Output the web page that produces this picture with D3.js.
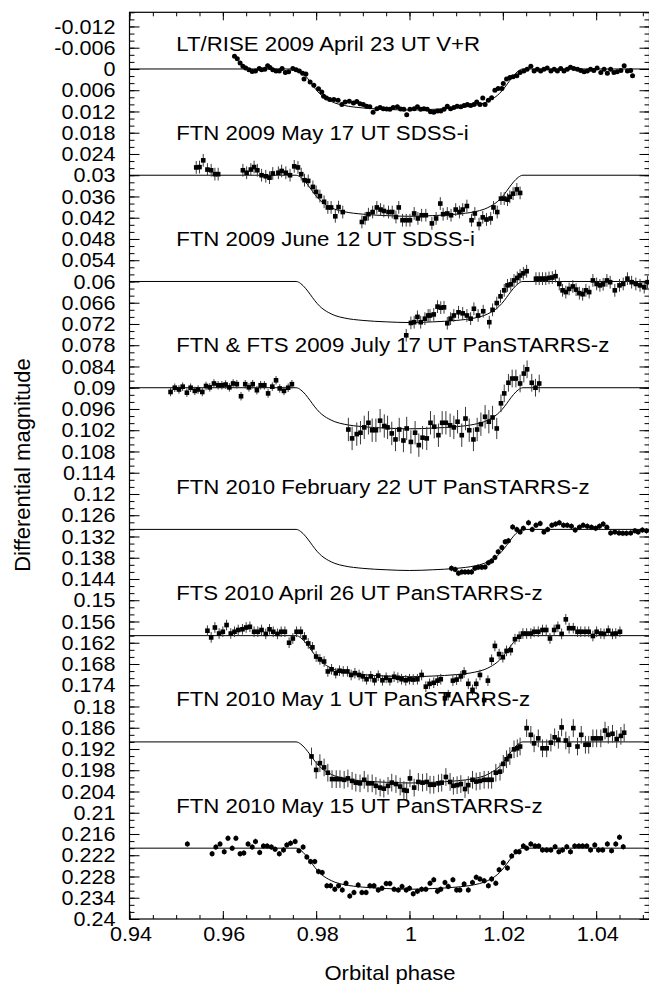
<!DOCTYPE html>
<html>
<head>
<meta charset="utf-8">
<script src="https://cdn.jsdelivr.net/npm/d3@7"></script>
<style>
  html, body { margin: 0; padding: 0; background: #fff; }
  svg { display: block; }
  text { font-family: "Liberation Sans", Arial, Helvetica, sans-serif; fill: #000; }
</style>
</head>
<body>
<svg id="chart" width="649" height="984"></svg>
<script>
// ---- light-curve data: [orbital phase, differential magnitude before offset] ----
const lightCurveNames = [
  "LT/RISE 2009 April 23 UT V+R",
  "FTN 2009 May 17 UT SDSS-i",
  "FTN 2009 June 12 UT SDSS-i",
  "FTN & FTS 2009 July 17 UT PanSTARRS-z",
  "FTN 2010 February 22 UT PanSTARRS-z",
  "FTS 2010 April 26 UT PanSTARRS-z",
  "FTN 2010 May 1 UT PanSTARRS-z",
  "FTN 2010 May 15 UT PanSTARRS-z"
];
const lightCurveOffsets = [0, 0.03, 0.06, 0.09, 0.13, 0.16, 0.19, 0.22];
const lightCurveErrors = [0, 0.0018, 0.0018, 0, 0.0008, 0.0015, 0.0025, 0.0008];

const april23 = [
  [0.9625,-0.0036],[0.9631,-0.0029],[0.9637,-0.0017],[0.9643,-0.0008],[0.9649,-0.0003],[0.9656,0.0002],
  [0.9663,0.0007],[0.9670,0.0006],[0.9678,-0.0001],[0.9683,0.0002],[0.9690,0.0001],[0.9696,-0.0009],
  [0.9701,-0.0004],[0.9707,0.0002],[0.9714,0.0006],[0.9721,0.0006],[0.9727,-0.0001],[0.9734,0.0010],
  [0.9741,0.0008],[0.9750,-0.0001],[0.9757,0.0002],[0.9764,0.0006],[0.9771,0.0012],[0.9774,0.0028],
  [0.9778,0.0014],[0.9787,0.0037],[0.9795,0.0046],[0.9805,0.0056],[0.9812,0.0065],[0.9816,0.0077],
  [0.9822,0.0082],[0.9829,0.0086],[0.9838,0.0086],[0.9847,0.0088],[0.9855,0.0100],[0.9862,0.0093],
  [0.9871,0.0091],[0.9880,0.0096],[0.9887,0.0092],[0.9894,0.0098],[0.9901,0.0100],[0.9908,0.0105],
  [0.9915,0.0107],[0.9922,0.0122],[0.9930,0.0112],[0.9937,0.0109],[0.9944,0.0112],[0.9951,0.0113],
  [0.9958,0.0114],[0.9965,0.0109],[0.9974,0.0107],[0.9981,0.0113],[0.9988,0.0114],[0.9994,0.0129],
  [1.0001,0.0114],[1.0010,0.0112],[1.0017,0.0107],[1.0024,0.0114],[1.0031,0.0112],[1.0038,0.0114],
  [1.0045,0.0121],[1.0052,0.0122],[1.0060,0.0119],[1.0067,0.0119],[1.0074,0.0114],[1.0081,0.0105],
  [1.0088,0.0112],[1.0095,0.0109],[1.0102,0.0105],[1.0110,0.0107],[1.0117,0.0103],[1.0124,0.0100],
  [1.0131,0.0103],[1.0138,0.0100],[1.0144,0.0093],[1.0151,0.0100],[1.0157,0.0082],[1.0162,0.0100],
  [1.0169,0.0088],[1.0176,0.0081],[1.0183,0.0060],[1.0190,0.0055],[1.0198,0.0055],[1.0201,0.0041],
  [1.0208,0.0028],[1.0215,0.0024],[1.0222,0.0022],[1.0230,0.0019],[1.0237,0.0010],[1.0245,0.0006],
  [1.0252,0.0001],[1.0260,-0.0008],[1.0267,0.0006],[1.0274,0.0001],[1.0281,0.0006],[1.0288,0.0001],
  [1.0295,-0.0003],[1.0303,0.0006],[1.0310,0.0001],[1.0317,0.0006],[1.0324,-0.0001],[1.0331,0.0006],
  [1.0338,0.0001],[1.0345,-0.0005],[1.0352,-0.0001],[1.0360,0.0001],[1.0367,0.0004],[1.0374,0.0008],
  [1.0381,0.0006],[1.0388,0.0001],[1.0395,0.0004],[1.0402,-0.0003],[1.0410,0.0010],[1.0417,0.0001],
  [1.0424,0.0012],[1.0431,0.0001],[1.0438,0.0010],[1.0445,0.0008],[1.0453,0.0004],[1.0460,-0.0009],
  [1.0467,0.0006],[1.0474,0.0004],[1.0478,0.0019]
];

const may17 = [
  [0.9543,-0.0022],[0.9550,-0.0023],[0.9558,-0.0042],[0.9567,-0.0016],[0.9575,-0.0014],[0.9583,-0.0003],
  [0.9590,-0.0003],[0.9643,-0.0014],[0.9651,-0.0007],[0.9660,-0.0016],[0.9667,-0.0023],[0.9674,-0.0014],
  [0.9683,0.0000],[0.9692,0.0003],[0.9700,0.0007],[0.9707,-0.0005],[0.9719,-0.0007],[0.9726,-0.0012],
  [0.9735,-0.0007],[0.9744,0.0000],[0.9753,-0.0025],[0.9761,-0.0022],[0.9768,-0.0003],[0.9775,0.0014],
  [0.9783,0.0016],[0.9793,0.0033],[0.9800,0.0047],[0.9808,0.0059],[0.9817,0.0075],[0.9825,0.0091],
  [0.9832,0.0091],[0.9841,0.0116],[0.9848,0.0090],[0.9857,0.0104],[0.9898,0.0132],[0.9905,0.0122],
  [0.9912,0.0110],[0.9921,0.0104],[0.9930,0.0091],[0.9938,0.0097],[0.9945,0.0101],[0.9955,0.0104],
  [0.9963,0.0104],[0.9971,0.0118],[0.9977,0.0091],[0.9985,0.0127],[0.9993,0.0127],[1.0001,0.0127],
  [1.0010,0.0108],[1.0018,0.0122],[1.0026,0.0113],[1.0035,0.0113],[1.0048,0.0136],[1.0057,0.0122],
  [1.0066,0.0080],[1.0072,0.0110],[1.0081,0.0108],[1.0089,0.0113],[1.0099,0.0097],[1.0107,0.0104],
  [1.0114,0.0097],[1.0123,0.0087],[1.0133,0.0127],[1.0140,0.0108],[1.0149,0.0138],[1.0157,0.0119],
  [1.0165,0.0125],[1.0174,0.0122],[1.0180,0.0091],[1.0188,0.0104],[1.0196,0.0066],[1.0203,0.0066],
  [1.0210,0.0069],[1.0215,0.0061],[1.0222,0.0052],[1.0230,0.0040],[1.0237,0.0050]
];

const june12 = [
  [0.9993,0.0152],[1.0003,0.0117],[1.0010,0.0115],[1.0017,0.0100],[1.0024,0.0115],[1.0033,0.0105],
  [1.0040,0.0096],[1.0044,0.0096],[1.0052,0.0093],[1.0060,0.0071],[1.0067,0.0074],[1.0074,0.0073],
  [1.0081,0.0118],[1.0088,0.0105],[1.0095,0.0096],[1.0105,0.0087],[1.0114,0.0090],[1.0123,0.0096],
  [1.0131,0.0105],[1.0138,0.0077],[1.0147,0.0096],[1.0158,0.0084],[1.0171,0.0115],[1.0178,0.0080],
  [1.0187,0.0061],[1.0195,0.0042],[1.0203,0.0025],[1.0210,0.0011],[1.0217,0.0008],[1.0224,-0.0003],
  [1.0231,-0.0010],[1.0237,-0.0017],[1.0244,-0.0023],[1.0251,-0.0029],[1.0271,-0.0008],[1.0278,-0.0008],
  [1.0285,-0.0008],[1.0292,-0.0008],[1.0299,-0.0010],[1.0306,-0.0011],[1.0313,-0.0015],[1.0321,0.0007],
  [1.0328,0.0025],[1.0335,0.0030],[1.0342,0.0021],[1.0350,0.0014],[1.0357,0.0023],[1.0364,0.0033],
  [1.0371,0.0036],[1.0378,0.0025],[1.0385,0.0030],[1.0393,-0.0003],[1.0401,0.0007],[1.0408,0.0011],
  [1.0415,0.0008],[1.0423,-0.0003],[1.0430,0.0002],[1.0440,0.0025],[1.0450,0.0011],[1.0458,0.0007],
  [1.0467,-0.0008],[1.0476,0.0002],[1.0485,0.0007],[1.0494,0.0011],[1.0503,0.0016],[1.0510,0.0002]
];

// [phase, magnitude, error]
const july17 = [
  [0.9488,0.0012,0.0012],[0.9497,0.0000,0.0012],[0.9506,0.0005,0.0012],[0.9514,-0.0003,0.0012],
  [0.9523,0.0014,0.0012],[0.9531,0.0000,0.0012],[0.9540,0.0009,0.0012],[0.9547,0.0005,0.0012],
  [0.9556,0.0012,0.0012],[0.9564,-0.0005,0.0012],[0.9572,-0.0001,0.0012],[0.9581,-0.0012,0.0012],
  [0.9590,-0.0007,0.0012],[0.9598,-0.0007,0.0012],[0.9606,-0.0009,0.0012],[0.9614,-0.0001,0.0012],
  [0.9622,-0.0012,0.0012],[0.9630,-0.0010,0.0012],[0.9639,0.0024,0.0012],[0.9648,-0.0010,0.0012],
  [0.9656,-0.0001,0.0012],[0.9664,-0.0010,0.0012],[0.9673,0.0007,0.0012],[0.9681,-0.0007,0.0012],
  [0.9689,-0.0007,0.0012],[0.9697,0.0016,0.0012],[0.9706,-0.0003,0.0012],[0.9714,-0.0021,0.0012],
  [0.9722,0.0002,0.0012],[0.9731,0.0009,0.0012],[0.9740,0.0000,0.0012],[0.9748,-0.0010,0.0012],
  [0.9869,0.0118,0.0033],[0.9877,0.0143,0.0033],[0.9887,0.0131,0.0033],[0.9895,0.0127,0.0033],
  [0.9903,0.0112,0.0033],[0.9912,0.0099,0.0033],[0.9920,0.0120,0.0033],[0.9928,0.0120,0.0033],
  [0.9937,0.0093,0.0033],[0.9946,0.0108,0.0033],[0.9953,0.0112,0.0033],[0.9962,0.0129,0.0033],
  [0.9970,0.0146,0.0033],[0.9978,0.0118,0.0033],[0.9987,0.0149,0.0033],[0.9994,0.0115,0.0033],
  [1.0003,0.0153,0.0033],[1.0012,0.0127,0.0033],[1.0020,0.0162,0.0033],[1.0028,0.0141,0.0033],
  [1.0037,0.0143,0.0033],[1.0045,0.0099,0.0033],[1.0053,0.0110,0.0033],[1.0062,0.0134,0.0033],
  [1.0070,0.0099,0.0033],[1.0078,0.0099,0.0033],[1.0087,0.0106,0.0033],[1.0095,0.0112,0.0033],
  [1.0103,0.0096,0.0033],[1.0112,0.0134,0.0033],[1.0120,0.0087,0.0033],[1.0128,0.0120,0.0033],
  [1.0137,0.0146,0.0033],[1.0145,0.0118,0.0033],[1.0153,0.0103,0.0033],[1.0162,0.0082,0.0033],
  [1.0170,0.0096,0.0033],[1.0178,0.0084,0.0033],[1.0187,0.0115,0.0030],[1.0196,0.0044,0.0025],
  [1.0203,0.0016,0.0025],[1.0212,-0.0014,0.0025],[1.0220,-0.0026,0.0025],[1.0228,-0.0026,0.0025],
  [1.0237,-0.0012,0.0025],[1.0245,-0.0040,0.0025],[1.0252,-0.0052,0.0025],[1.0262,-0.0014,0.0025],
  [1.0270,0.0000,0.0025],[1.0278,-0.0012,0.0025]
];

const february22 = [
  [1.0090,0.0110],[1.0098,0.0113],[1.0105,0.0124],[1.0112,0.0120],[1.0119,0.0120],[1.0126,0.0120],
  [1.0133,0.0120],[1.0140,0.0110],[1.0147,0.0107],[1.0155,0.0107],[1.0162,0.0106],[1.0169,0.0094],
  [1.0176,0.0089],[1.0183,0.0079],[1.0190,0.0063],[1.0198,0.0051],[1.0205,0.0035],[1.0212,0.0032],
  [1.0221,-0.0007],[1.0230,0.0000],[1.0237,0.0007],[1.0244,-0.0003],[1.0255,-0.0019],[1.0263,0.0000],
  [1.0271,-0.0012],[1.0280,-0.0017],[1.0288,0.0007],[1.0296,0.0000],[1.0305,-0.0012],[1.0313,-0.0015],
  [1.0321,-0.0019],[1.0330,-0.0012],[1.0338,-0.0012],[1.0347,-0.0009],[1.0355,0.0002],[1.0364,-0.0006],
  [1.0372,-0.0012],[1.0381,-0.0009],[1.0390,-0.0006],[1.0399,-0.0003],[1.0407,-0.0009],[1.0415,-0.0015],
  [1.0423,-0.0006],[1.0431,0.0010],[1.0440,0.0007],[1.0449,0.0010],[1.0457,0.0011],[1.0465,0.0011],
  [1.0474,0.0010],[1.0483,0.0004],[1.0490,0.0007],[1.0499,0.0002],[1.0508,0.0004]
];

const april26 = [
  [0.9567,-0.0014],[0.9575,0.0005],[0.9583,-0.0023],[0.9592,-0.0006],[0.9600,-0.0011],[0.9608,-0.0030],
  [0.9617,-0.0006],[0.9625,-0.0011],[0.9633,-0.0016],[0.9642,-0.0018],[0.9650,-0.0023],[0.9658,-0.0025],
  [0.9667,-0.0011],[0.9675,-0.0011],[0.9683,-0.0016],[0.9692,-0.0005],[0.9700,-0.0018],[0.9708,-0.0011],
  [0.9717,-0.0005],[0.9725,-0.0011],[0.9733,-0.0011],[0.9742,0.0020],[0.9750,0.0008],[0.9758,-0.0011],
  [0.9767,-0.0011],[0.9775,0.0005],[0.9783,0.0022],[0.9792,0.0033],[0.9800,0.0059],[0.9808,0.0067],
  [0.9817,0.0073],[0.9825,0.0101],[0.9833,0.0095],[0.9842,0.0106],[0.9850,0.0099],[0.9858,0.0101],
  [0.9867,0.0101],[0.9875,0.0111],[0.9883,0.0106],[0.9892,0.0111],[0.9900,0.0115],[0.9908,0.0123],
  [0.9917,0.0115],[0.9925,0.0126],[0.9933,0.0113],[0.9942,0.0126],[0.9950,0.0119],[0.9958,0.0126],
  [0.9967,0.0116],[0.9975,0.0119],[0.9983,0.0123],[0.9992,0.0126],[1.0000,0.0123],[1.0008,0.0124],
  [1.0017,0.0123],[1.0026,0.0111],[1.0035,0.0144],[1.0043,0.0136],[1.0052,0.0133],[1.0060,0.0127],
  [1.0067,0.0123],[1.0076,0.0177],[1.0083,0.0168],[1.0093,0.0127],[1.0101,0.0124],[1.0110,0.0115],
  [1.0117,0.0104],[1.0126,0.0136],[1.0135,0.0153],[1.0143,0.0136],[1.0151,0.0111],[1.0160,0.0182],
  [1.0168,0.0127],[1.0176,0.0068],[1.0183,0.0029],[1.0192,0.0052],[1.0200,0.0061],[1.0208,0.0043],
  [1.0217,0.0041],[1.0226,0.0010],[1.0235,0.0003],[1.0243,-0.0006],[1.0251,-0.0006],[1.0260,-0.0006],
  [1.0267,-0.0011],[1.0276,-0.0011],[1.0285,-0.0016],[1.0293,-0.0016],[1.0301,0.0008],[1.0310,-0.0016],
  [1.0318,-0.0025],[1.0326,-0.0005],[1.0335,-0.0046],[1.0342,-0.0021],[1.0351,-0.0021],[1.0360,-0.0011],
  [1.0367,-0.0011],[1.0376,-0.0011],[1.0384,-0.0011],[1.0393,0.0001],[1.0401,-0.0011],[1.0410,-0.0006],
  [1.0417,-0.0005],[1.0426,-0.0014],[1.0435,-0.0005],[1.0442,-0.0006],[1.0451,-0.0011]
];

const may1 = [
  [0.9790,0.0041],[0.9800,0.0079],[0.9808,0.0060],[0.9817,0.0072],[0.9825,0.0087],[0.9834,0.0105],
  [0.9843,0.0105],[0.9851,0.0105],[0.9860,0.0107],[0.9868,0.0103],[0.9877,0.0110],[0.9885,0.0115],
  [0.9894,0.0117],[0.9903,0.0107],[0.9911,0.0117],[0.9920,0.0117],[0.9928,0.0124],[0.9937,0.0129],
  [0.9945,0.0132],[0.9954,0.0124],[0.9962,0.0115],[0.9971,0.0119],[0.9980,0.0126],[0.9988,0.0136],
  [0.9994,0.0138],[1.0001,0.0103],[1.0010,0.0129],[1.0019,0.0113],[1.0028,0.0115],[1.0037,0.0113],
  [1.0044,0.0121],[1.0052,0.0121],[1.0062,0.0117],[1.0069,0.0115],[1.0078,0.0099],[1.0087,0.0113],
  [1.0094,0.0124],[1.0102,0.0122],[1.0110,0.0119],[1.0119,0.0133],[1.0126,0.0122],[1.0135,0.0107],
  [1.0143,0.0112],[1.0151,0.0110],[1.0160,0.0107],[1.0169,0.0107],[1.0176,0.0107],[1.0185,0.0087],
  [1.0194,0.0084],[1.0201,0.0062],[1.0208,0.0049],[1.0215,0.0040],[1.0224,0.0021],[1.0231,0.0018],
  [1.0237,0.0013],[1.0251,-0.0039],[1.0260,-0.0020],[1.0267,0.0004],[1.0276,-0.0010],[1.0285,0.0018],
  [1.0294,0.0018],[1.0303,0.0002],[1.0311,-0.0013],[1.0319,-0.0006],[1.0326,-0.0041],[1.0335,-0.0004],
  [1.0342,0.0008],[1.0351,-0.0039],[1.0360,0.0013],[1.0368,-0.0020],[1.0377,0.0008],[1.0384,0.0008],
  [1.0393,-0.0010],[1.0401,-0.0010],[1.0410,-0.0010],[1.0419,-0.0032],[1.0426,-0.0020],[1.0435,-0.0023],
  [1.0444,-0.0008],[1.0453,-0.0017],[1.0460,-0.0026]
];

const may15 = [
  [0.9524,-0.0012],[0.9577,0.0016],[0.9585,-0.0003],[0.9594,-0.0012],[0.9603,0.0010],[0.9611,-0.0028],
  [0.9620,0.0000],[0.9628,-0.0028],[0.9637,0.0016],[0.9645,0.0014],[0.9654,-0.0012],[0.9663,-0.0003],
  [0.9670,-0.0019],[0.9679,0.0012],[0.9687,-0.0006],[0.9695,-0.0006],[0.9704,-0.0003],[0.9712,0.0003],
  [0.9721,0.0016],[0.9730,0.0005],[0.9737,-0.0009],[0.9745,-0.0014],[0.9755,-0.0019],[0.9763,0.0007],
  [0.9772,-0.0003],[0.9780,0.0025],[0.9788,0.0038],[0.9797,0.0038],[0.9805,0.0066],[0.9813,0.0069],
  [0.9823,0.0106],[0.9831,0.0106],[0.9840,0.0116],[0.9848,0.0106],[0.9856,0.0118],[0.9864,0.0099],
  [0.9872,0.0135],[0.9881,0.0125],[0.9890,0.0104],[0.9898,0.0125],[0.9907,0.0125],[0.9915,0.0106],
  [0.9924,0.0106],[0.9933,0.0118],[0.9941,0.0113],[0.9950,0.0100],[0.9958,0.0100],[0.9967,0.0116],
  [0.9976,0.0118],[0.9984,0.0108],[0.9993,0.0118],[1.0000,0.0113],[1.0008,0.0129],[1.0017,0.0122],
  [1.0026,0.0116],[1.0035,0.0116],[1.0044,0.0099],[1.0052,0.0089],[1.0060,0.0122],[1.0067,0.0116],
  [1.0076,0.0097],[1.0083,0.0108],[1.0093,0.0089],[1.0101,0.0118],[1.0108,0.0118],[1.0117,0.0101],
  [1.0126,0.0118],[1.0135,0.0097],[1.0143,0.0082],[1.0151,0.0087],[1.0160,0.0092],[1.0169,0.0106],
  [1.0176,0.0087],[1.0185,0.0099],[1.0192,0.0061],[1.0201,0.0041],[1.0210,0.0056],[1.0219,0.0022],
  [1.0228,0.0010],[1.0235,0.0010],[1.0244,-0.0006],[1.0251,0.0000],[1.0260,-0.0012],[1.0269,-0.0006],
  [1.0277,-0.0006],[1.0285,0.0005],[1.0294,0.0005],[1.0303,0.0005],[1.0312,-0.0004],[1.0320,0.0010],
  [1.0328,0.0005],[1.0337,-0.0004],[1.0345,0.0010],[1.0354,-0.0006],[1.0363,-0.0006],[1.0371,-0.0006],
  [1.0380,-0.0006],[1.0388,0.0005],[1.0397,-0.0009],[1.0405,0.0005],[1.0414,0.0005],[1.0424,-0.0012],
  [1.0433,0.0007],[1.0442,-0.0012],[1.0450,-0.0031],[1.0458,-0.0004]
];

const lightCurves = [april23, may17, june12, july17, february22, april26, may1, may15];
const markerShapes = ["circle", "square", "square", "square", "circle", "square", "square", "circle"];

// transit model (phase, depth) shared by every night
const modelPhase = [0.9400, 0.9757, 0.9767, 0.9777, 0.9787, 0.9797, 0.9807, 0.9817, 0.9827, 0.9840,
  0.9860, 0.9900, 0.9950, 1.0000, 1.0050, 1.0100, 1.0140, 1.0160, 1.0173, 1.0183, 1.0193, 1.0203,
  1.0213, 1.0223, 1.0233, 1.0243, 1.0515];
const modelDepth = [0, 0, 0.0006, 0.0019, 0.0036, 0.0054, 0.0069, 0.0080, 0.0088, 0.0096,
  0.0103, 0.0110, 0.0114, 0.0116, 0.0114, 0.0110, 0.0103, 0.0096, 0.0088, 0.0080, 0.0069, 0.0054,
  0.0036, 0.0019, 0.0006, 0, 0];

// axis ticks
const xTickValues = [0.94, 0.96, 0.98, 1.0, 1.02, 1.04];
const xTickLabels = ["0.94", "0.96", "0.98", "1", "1.02", "1.04"];
const yTickValues = [-0.012, -0.006, 0, 0.006, 0.012, 0.018, 0.024, 0.03, 0.036, 0.042, 0.048, 0.054,
  0.06, 0.066, 0.072, 0.078, 0.084, 0.09, 0.096, 0.102, 0.108, 0.114, 0.12, 0.126, 0.132, 0.138,
  0.144, 0.15, 0.156, 0.162, 0.168, 0.174, 0.18, 0.186, 0.192, 0.198, 0.204, 0.21, 0.216, 0.222,
  0.228, 0.234, 0.24];
const yTickLabels = ["-0.012", "-0.006", "0", "0.006", "0.012", "0.018", "0.024", "0.03", "0.036",
  "0.042", "0.048", "0.054", "0.06", "0.066", "0.072", "0.078", "0.084", "0.09", "0.096", "0.102",
  "0.108", "0.114", "0.12", "0.126", "0.132", "0.138", "0.144", "0.15", "0.156", "0.162", "0.168",
  "0.174", "0.18", "0.186", "0.192", "0.198", "0.204", "0.21", "0.216", "0.222", "0.228", "0.234",
  "0.24"];

// ---- drawing ----
const svg = d3.select("#chart");
const plotLeft = 129.5, plotRight = 649.5, plotTop = 12.3, plotBottom = 919;
const x = d3.scaleLinear().domain([0.94, 1.05143]).range([plotLeft, plotRight]);
const y = d3.scaleLinear().domain([-0.016, 0.24]).range([plotTop, plotBottom]);

svg.append("defs").append("clipPath").attr("id", "plotClip")
  .append("rect").attr("x", plotLeft).attr("y", plotTop)
  .attr("width", plotRight - plotLeft).attr("height", plotBottom - plotTop);

const plot = svg.append("g").attr("clip-path", "url(#plotClip)");

// model curves
const model = modelPhase.map((p, i) => [p, modelDepth[i]]);
lightCurveOffsets.forEach(off => {
  const line = d3.line().x(d => x(d[0])).y(d => y(d[1] + off)).curve(d3.curveMonotoneX);
  plot.append("path").datum(model).attr("d", line)
    .attr("fill", "none").attr("stroke", "#000").attr("stroke-width", 1);
});

// points with error bars
lightCurves.forEach((pts, i) => {
  const off = lightCurveOffsets[i];
  const g = plot.append("g");
  const errOf = d => (d.length > 2 ? d[2] : lightCurveErrors[i]);
  g.selectAll("line.err").data(pts.filter(d => errOf(d) > 0)).join("line")
    .attr("class", "err")
    .attr("x1", d => x(d[0])).attr("x2", d => x(d[0]))
    .attr("y1", d => y(d[1] + off - errOf(d))).attr("y2", d => y(d[1] + off + errOf(d)))
    .attr("stroke", "#3a3a3a").attr("stroke-width", 1);
  if (markerShapes[i] === "circle") {
    g.selectAll("circle").data(pts).join("circle")
      .attr("cx", d => x(d[0])).attr("cy", d => y(d[1] + off)).attr("r", 2.5).attr("fill", "#000");
  } else {
    g.selectAll("rect").data(pts).join("rect")
      .attr("x", d => x(d[0]) - 2.3).attr("y", d => y(d[1] + off) - 2.3)
      .attr("width", 4.6).attr("height", 4.6).attr("fill", "#000");
  }
});

// axes: inward ticks on all four sides
const axes = svg.append("g");
const xMinor = d3.range(0.94, 1.0515, 0.005);
const yMinor = d3.range(-0.016, 0.2401, 0.002);
function addAxis(axis, tx, ty) {
  const g = axes.append("g").attr("transform", `translate(${tx},${ty})`).call(axis);
  g.select(".domain").remove();
  g.selectAll("line").attr("stroke", "#000").attr("stroke-width", 1);
  g.selectAll("text").remove();
}
addAxis(d3.axisBottom(x).tickValues(xMinor).tickSize(-4).tickFormat(""), 0, plotBottom);
addAxis(d3.axisBottom(x).tickValues(xTickValues).tickSize(-8).tickFormat(""), 0, plotBottom);
addAxis(d3.axisTop(x).tickValues(xMinor).tickSize(-4).tickFormat(""), 0, plotTop);
addAxis(d3.axisTop(x).tickValues(xTickValues).tickSize(-8).tickFormat(""), 0, plotTop);
addAxis(d3.axisLeft(y).tickValues(yMinor).tickSize(-5).tickFormat(""), plotLeft, 0);
addAxis(d3.axisLeft(y).tickValues(yTickValues).tickSize(-10).tickFormat(""), plotLeft, 0);
addAxis(d3.axisRight(y).tickValues(yMinor).tickSize(-5).tickFormat(""), plotRight, 0);
addAxis(d3.axisRight(y).tickValues(yTickValues).tickSize(-10).tickFormat(""), plotRight, 0);

// plot border
axes.append("rect").attr("x", plotLeft).attr("y", plotTop)
  .attr("width", plotRight - plotLeft).attr("height", plotBottom - plotTop)
  .attr("fill", "none").attr("stroke", "#000").attr("stroke-width", 1.2);

// tick labels
const labels = svg.append("g");
yTickValues.forEach((v, i) => {
  labels.append("text")
    .attr("transform", `translate(115.5,${y(v) + 7.2}) scale(1.08,1)`)
    .attr("text-anchor", "end").attr("font-size", 20)
    .text(yTickLabels[i]);
});
xTickValues.forEach((v, i) => {
  labels.append("text")
    .attr("transform", `translate(${x(v) + 1.5},940.5) scale(1.08,1)`)
    .attr("text-anchor", "middle").attr("font-size", 20)
    .text(xTickLabels[i]);
});

// night labels
lightCurveNames.forEach((name, i) => {
  const lift = i === 0 ? 0.005 : 0.010;
  labels.append("text")
    .attr("transform", `translate(${x(0.95)},${y(lightCurveOffsets[i] - lift)}) scale(1.06,1)`)
    .attr("font-size", 21)
    .text(name);
});

// axis titles
labels.append("text")
  .attr("transform", `translate(390,980) scale(1.05,1)`)
  .attr("text-anchor", "middle").attr("font-size", 21)
  .text("Orbital phase");
labels.append("text")
  .attr("transform", `translate(29.5,465) rotate(-90)`)
  .attr("text-anchor", "middle").attr("font-size", 22)
  .text("Differential magnitude");
</script>
</body>
</html>
